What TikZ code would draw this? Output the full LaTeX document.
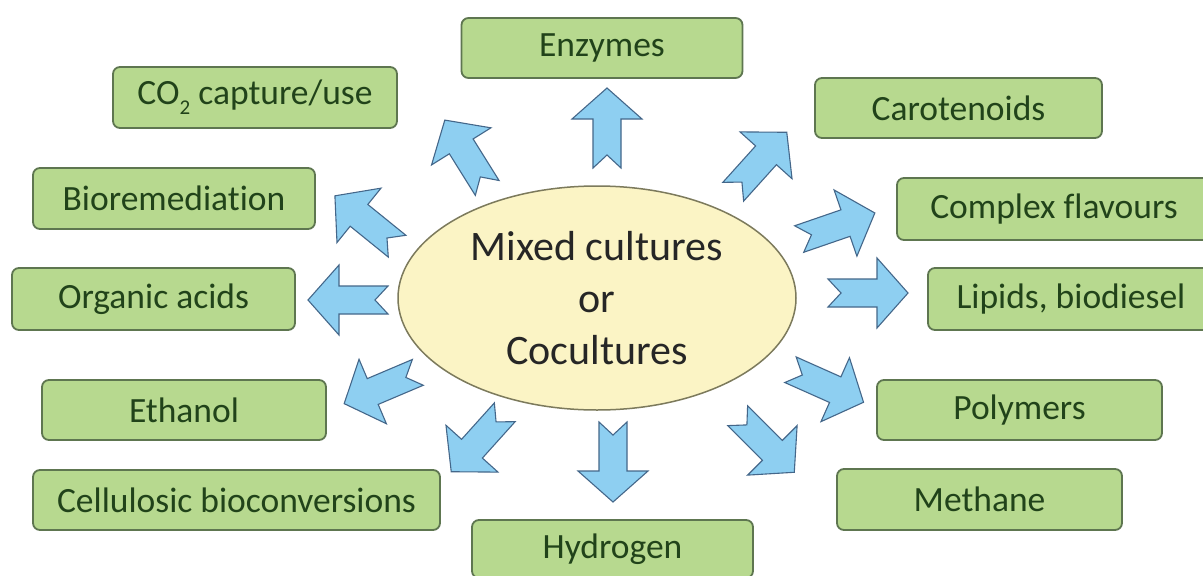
\documentclass[tikz,border=0pt]{standalone}
\usepackage{fontspec}
\setmainfont{Carlito}[Ligatures=NoCommon]
\usetikzlibrary{shapes.geometric}
\definecolor{boxfill}{HTML}{B7D98F}
\definecolor{boxline}{HTML}{5E7650}
\definecolor{boxtext}{HTML}{21431A}
\definecolor{arrfill}{HTML}{8ECFF1}
\definecolor{arrline}{HTML}{44678A}
\definecolor{ellfill}{HTML}{FBF4C5}
\definecolor{ellline}{HTML}{7C7A5C}
\definecolor{elltext}{HTML}{262626}
\newcommand\blockarrow[2]{%
  \draw[arrowshape, shift={(#1)}, rotate=#2]
    (40,0) -- (9,35) -- (9,14) -- (-40,14) -- (-27,0) -- (-40,-14) -- (9,-14) -- (9,-35) -- cycle;}
\newcommand\subtwo{\raisebox{-0.28em}{\fontsize{21}{21}\selectfont 2}}
\begin{document}
\begin{tikzpicture}[x=1pt,y=-1pt,
  box/.style={draw=boxline, line width=1.8pt, fill=boxfill, rounded corners=7pt,
    text=boxtext, font=\fontsize{35.5}{40}\selectfont, inner sep=0pt,
    minimum height=60pt, minimum width=283pt},
  arrowshape/.style={draw=arrline, line width=1.1pt, fill=arrfill, line join=miter},
  core/.style={ellipse, draw=ellline, line width=1.5pt, fill=ellfill, text=elltext,
    font=\fontsize{42}{52}\selectfont, align=center, inner sep=0pt,
    minimum width=398pt, minimum height=224pt}]
\useasboundingbox (0,0) rectangle (1203,576);
\clip (0,0) rectangle (1203,576);
\fill[white] (0,0) rectangle (1203,576);

\node[core] (mix) at (597,298) {Mixed cultures\\or\\Cocultures};

\node[box, minimum width=281pt] (enz) at (602,48) {Enzymes};
\node[box, minimum width=284pt, minimum height=61pt] (co2) at (255,97.5) {CO\subtwo\ capture/use};
\node[box, minimum width=287pt] (car) at (958.5,108) {Carotenoids};
\node[box, minimum width=282pt, minimum height=61pt] (bio) at (174,198.5) {Bioremediation};
\node[box, minimum width=314pt, minimum height=62pt] (flav) at (1054,209) {Complex flavours};
\node[box, minimum width=283pt, minimum height=62pt] (org) at (153.5,299) {Organic acids};
\node[box, minimum width=286pt, minimum height=62pt] (lip) at (1071,299) {Lipids, biodiesel};
\node[box, minimum width=284pt] (eth) at (184,410) {Ethanol};
\node[box, minimum width=285pt] (pol) at (1019.5,410) {Polymers};
\node[box, minimum width=407pt] (cel) at (236.5,500) {Cellulosic bioconversions};
\node[box, minimum width=285pt, minimum height=61pt] (met) at (979.5,499.5) {Methane};
\node[box, minimum width=281pt, minimum height=58pt] (hyd) at (612.5,549) {Hydrogen};

\blockarrow{607,128}{90}
\blockarrow{466,154}{122}
\blockarrow{760,162}{48}
\blockarrow{366,221}{141}
\blockarrow{348,300}{180}
\blockarrow{381,388}{203}
\blockarrow{837,226}{19}
\blockarrow{868,293}{0}
\blockarrow{827,386}{-24}
\blockarrow{478,442}{228}
\blockarrow{613,462}{270}
\blockarrow{766,444}{-45}
\end{tikzpicture}
\end{document}
